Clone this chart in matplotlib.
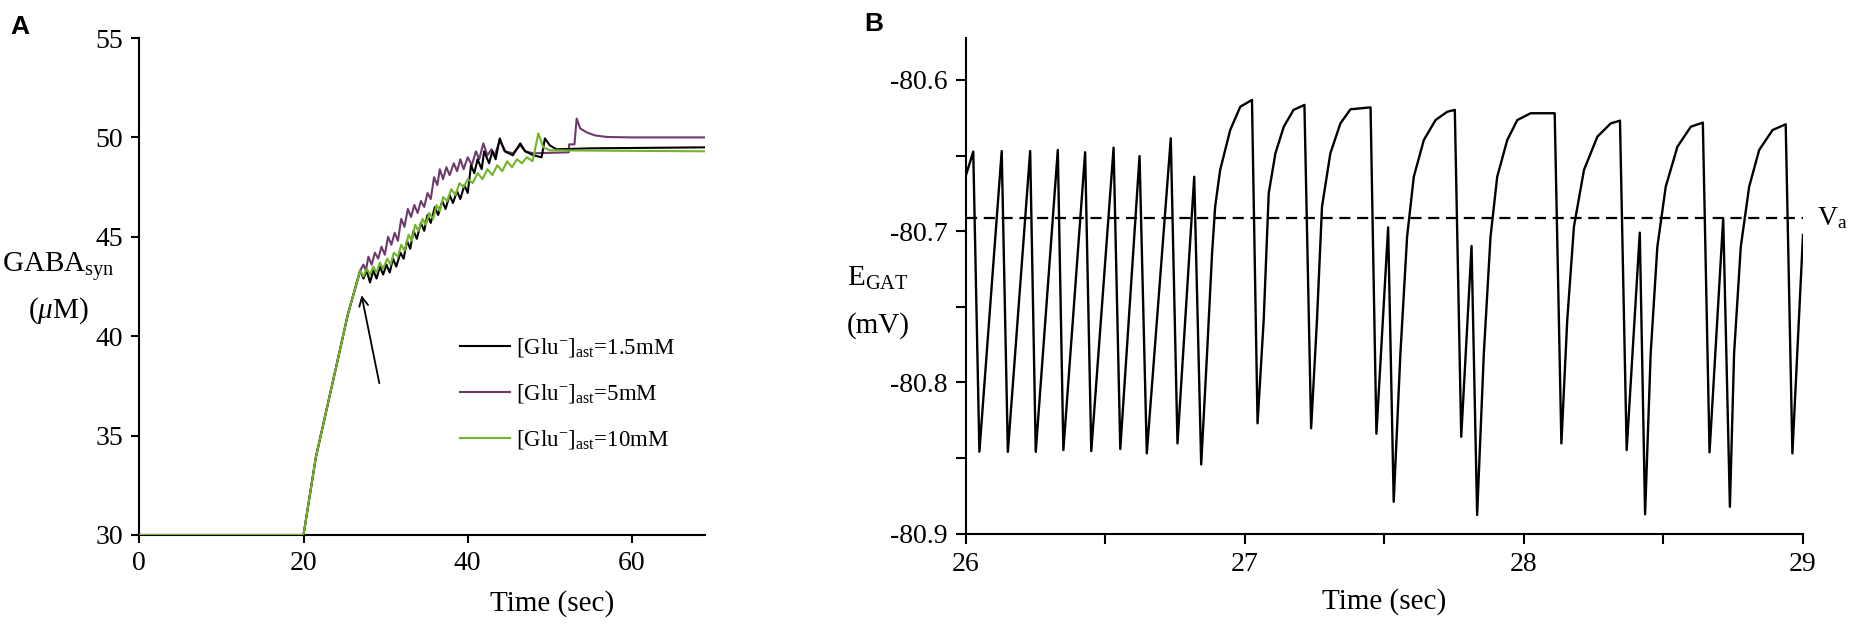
import numpy as np
import matplotlib
matplotlib.use("Agg")
import matplotlib.pyplot as plt
from matplotlib.ticker import MultipleLocator, FormatStrFormatter

plt.rcParams['font.family'] = ['Liberation Serif', 'DejaVu Serif']
plt.rcParams['mathtext.fontset'] = 'custom'
plt.rcParams['mathtext.rm'] = 'Liberation Serif'
plt.rcParams['mathtext.it'] = 'Liberation Serif:italic'
plt.rcParams['axes.unicode_minus'] = False

# ---- panel A data : GABA_syn (uM) vs time (s) ----
t_black = [0, 20, 21.5, 24, 25.4, 26.9, 27.3, 27.7, 28.1, 28.5, 28.9, 29.3, 29.7, 30.1, 30.5,
           30.9, 31.3, 31.8, 32.2, 32.6, 33.0, 33.4, 33.8, 34.3, 34.7, 35.1, 35.5, 36.0, 36.4,
           36.9, 37.3, 37.8, 38.2, 38.7, 39.1, 39.6, 40.0, 40.4, 40.8, 41.2, 41.7, 42.0, 42.6,
           43.0, 43.4, 43.9, 44.5, 45.5, 46.4, 47.0, 48.0, 49.0, 49.4, 50.0, 50.8, 55, 68.9]
v_black = [30, 30, 33.9, 38.5, 41.1, 43.3, 42.9, 43.3, 42.7, 43.3, 42.9, 43.5, 43.1, 43.6, 43.2,
           43.9, 43.5, 44.2, 43.9, 44.8, 44.4, 45.3, 44.9, 45.7, 45.3, 46.1, 45.7, 46.5, 46.1,
           46.8, 46.4, 47.1, 46.7, 47.3, 46.9, 47.6, 47.2, 48.6, 48.2, 48.9, 48.4, 49.3, 48.7,
           49.3, 48.9, 49.95, 49.3, 49.1, 49.7, 49.3, 49.1, 49.0, 49.95, 49.6, 49.4, 49.45, 49.5]

t_purple = [0, 20, 21.5, 24, 25.4, 26.9, 27.3, 27.6, 27.9, 28.3, 28.7, 29.1, 29.5, 29.9, 30.3,
            30.7, 31.1, 31.5, 31.9, 32.3, 32.7, 33.1, 33.5, 33.9, 34.3, 34.7, 35.1, 35.5, 35.9,
            36.3, 36.6, 37.0, 37.4, 37.8, 38.3, 38.7, 39.1, 39.5, 40.0, 40.5, 41.0, 41.4, 41.9,
            42.4, 42.9, 43.3, 43.9, 44.6, 45.5, 46.4, 47.0, 48.0, 52.3, 52.35, 53.0, 53.27,
            53.7, 54.5, 55.5, 57.0, 60, 68.9]
v_purple = [30, 30, 33.9, 38.5, 41.1, 43.3, 43.6, 43.3, 44.0, 43.6, 44.2, 43.9, 44.5, 44.1, 45.0,
            44.6, 45.2, 44.8, 45.9, 45.5, 46.4, 46.0, 46.6, 46.2, 46.8, 46.5, 47.2, 46.9, 48.0,
            47.6, 48.4, 47.9, 48.5, 48.1, 48.7, 48.3, 48.9, 48.4, 49.0, 48.6, 49.3, 48.9, 49.7,
            49.1, 49.4, 49.1, 49.85, 49.3, 49.2, 49.6, 49.3, 49.2, 49.25, 49.65, 49.65, 50.95,
            50.45, 50.25, 50.1, 50.02, 50.0, 50.0]

t_green = [0, 20, 21.5, 24, 25.4, 26.9, 27.3, 27.7, 28.1, 28.5, 28.9, 29.3, 29.7, 30.2, 30.6,
           31.0, 31.5, 31.9, 32.3, 32.8, 33.2, 33.6, 34.0, 34.5, 34.9, 35.3, 35.8, 36.2, 36.6,
           37.0, 37.5, 38.0, 38.5, 39.0, 39.5, 40.0, 40.6, 41.2, 41.8, 42.4, 43.0, 43.6, 44.2,
           44.8, 45.4, 46.0, 46.6, 47.2, 47.9, 48.6, 49.2, 50.0, 68.9]
v_green = [30, 30, 33.9, 38.5, 41.1, 43.3, 43.0, 43.4, 43.1, 43.5, 43.2, 43.7, 43.4, 43.9, 43.6,
           44.2, 44.0, 44.6, 44.3, 45.1, 44.8, 45.6, 45.3, 45.9, 45.6, 46.2, 45.9, 46.6, 46.3,
           47.0, 46.8, 47.4, 47.1, 47.7, 47.5, 47.9, 47.7, 48.2, 47.9, 48.4, 48.1, 48.6, 48.3,
           48.8, 48.5, 48.9, 48.7, 49.0, 48.8, 50.2, 49.5, 49.35, 49.3]

labels_A = [r'[Glu$^{-}$]$_{\rm ast}$=1.5mM', r'[Glu$^{-}$]$_{\rm ast}$=5mM',
            r'[Glu$^{-}$]$_{\rm ast}$=10mM']

# ---- panel B data : E_GAT (mV) vs time (s) ----
t_egat = [26.0, 26.026, 26.048, 26.128, 26.150, 26.230, 26.250, 26.329, 26.349, 26.427, 26.449,
          26.529, 26.553, 26.622, 26.648, 26.734, 26.758, 26.818, 26.843,
          26.864, 26.882, 26.893, 26.911, 26.947, 26.983, 27.025, 27.045,
          27.067, 27.085, 27.109, 27.139, 27.174, 27.213, 27.237,
          27.258, 27.276, 27.306, 27.342, 27.378, 27.450, 27.471, 27.513, 27.533,
          27.557, 27.581, 27.605, 27.641, 27.683, 27.725, 27.752, 27.775, 27.812, 27.832,
          27.856, 27.880, 27.904, 27.940, 27.976, 28.024, 28.110, 28.134,
          28.155, 28.179, 28.215, 28.263, 28.311, 28.344, 28.368, 28.415, 28.434,
          28.454, 28.478, 28.508, 28.550, 28.598, 28.641, 28.665, 28.714, 28.738,
          28.753, 28.777, 28.807, 28.843, 28.891, 28.938, 28.962, 29.0]
v_egat = [-80.663, -80.6474, -80.8459, -80.6470, -80.8460, -80.6470, -80.8460, -80.6463, -80.8448,
          -80.6478, -80.8455, -80.6448, -80.8441, -80.6503, -80.8470, -80.6386, -80.8404,
          -80.6640, -80.8543,
          -80.7808, -80.7146, -80.6838, -80.6595, -80.6331, -80.6177, -80.6132, -80.8271,
          -80.7588, -80.6750, -80.6485, -80.6309, -80.6198, -80.6165, -80.8304,
          -80.7588, -80.6838, -80.6485, -80.6287, -80.6194, -80.6181, -80.8340, -80.6975, -80.8790,
          -80.7810, -80.7037, -80.6640, -80.6397, -80.6265, -80.6210, -80.6198, -80.8360,
          -80.7098, -80.8877,
          -80.7810, -80.7037, -80.6640, -80.6397, -80.6265, -80.6220, -80.6220, -80.8404,
          -80.7588, -80.6970, -80.6595, -80.6375, -80.6287, -80.6269, -80.8448, -80.7010, -80.8873,
          -80.7810, -80.7103, -80.6706, -80.6441, -80.6309, -80.6282, -80.8463, -80.6915, -80.8823,
          -80.7810, -80.7103, -80.6706, -80.6463, -80.6331, -80.6293, -80.8470, -80.7025]
v_a = -80.6915

W, H = 1851, 626
fig = plt.figure(figsize=(W / 100, H / 100), dpi=100)

# ================= panel A =================
axA = fig.add_axes([139.3 / W, (H - 535) / H, (705 - 139.3) / W, (535 - 38) / H])
axA.plot(t_black, v_black, color='#000000', lw=1.5, label=labels_A[0], zorder=3)
axA.plot(t_purple, v_purple, color='#6e3a6e', lw=1.5, label=labels_A[1], zorder=2)
axA.plot(t_green, v_green, color='#72b52a', lw=1.5, label=labels_A[2], zorder=4)
axA.set_xlim(0, 68.9)
axA.set_ylim(30, 55)
axA.set_xticks([0, 20, 40, 60])
axA.set_yticks([30, 35, 40, 45, 50, 55])
axA.annotate('', xy=(27.0, 42.2), xytext=(29.3, 37.5),
             arrowprops=dict(arrowstyle='->', color='black', lw=1.3, mutation_scale=16))
axA.legend(loc='upper left', bbox_to_anchor=(0.567, 0.40), frameon=False, fontsize=16.5,
           handlelength=2.2, handletextpad=0.25, labelspacing=1.0, borderpad=0, borderaxespad=0)
axA.set_xlabel('Time (sec)', fontsize=21)
axA.xaxis.set_label_coords(0.73, -0.11)
fig.text(58 / W, 1 - 266 / H, 'GABA$_{\\rm syn}$', fontsize=21, ha='center', va='center')
fig.text(58 / W, 1 - 311 / H, r'($\mu$M)', fontsize=21, ha='center', va='center')
fig.text(10 / W, 1 - 27 / H, 'A', fontsize=19, fontweight='bold', family='Liberation Sans',
         ha='left', va='center')

# ================= panel B =================
axB = fig.add_axes([966 / W, (H - 533.5) / H, (1803 - 966) / W, (533.5 - 37.5) / H])
axB.plot(t_egat, v_egat, color='black', lw=1.7, zorder=3)
axB.axhline(v_a, color='black', lw=1.6, dashes=(5, 3), zorder=2)
axB.text(29.05, v_a, 'V$_{\\rm a}$', fontsize=20, ha='left', va='center')
axB.set_xlim(26, 29)
axB.set_ylim(-80.9, -80.5719)
axB.xaxis.set_major_locator(MultipleLocator(1))
axB.xaxis.set_minor_locator(MultipleLocator(0.5))
axB.yaxis.set_major_locator(MultipleLocator(0.1))
axB.yaxis.set_minor_locator(MultipleLocator(0.05))
axB.yaxis.set_major_formatter(FormatStrFormatter('%.1f'))
axB.set_xlabel('Time (sec)', fontsize=21)
axB.xaxis.set_label_coords(0.5, -0.11)
fig.text(878 / W, 1 - 278 / H, 'E$_{\\rm GAT}$', fontsize=21, ha='center', va='center')
fig.text(878 / W, 1 - 326 / H, '(mV)', fontsize=21, ha='center', va='center')
fig.text(864 / W, 1 - 24 / H, 'B', fontsize=19, fontweight='bold', family='Liberation Sans',
         ha='left', va='center')

for ax, tl in ((axA, 5.5), (axB, 7)):
    for s in ('top', 'right'):
        ax.spines[s].set_visible(False)
    for s in ('left', 'bottom'):
        ax.spines[s].set_linewidth(1.5)
    ax.tick_params(which='both', direction='out', width=1.5, length=tl, pad=6, labelsize=20)

fig.savefig('out.png', dpi=100)
